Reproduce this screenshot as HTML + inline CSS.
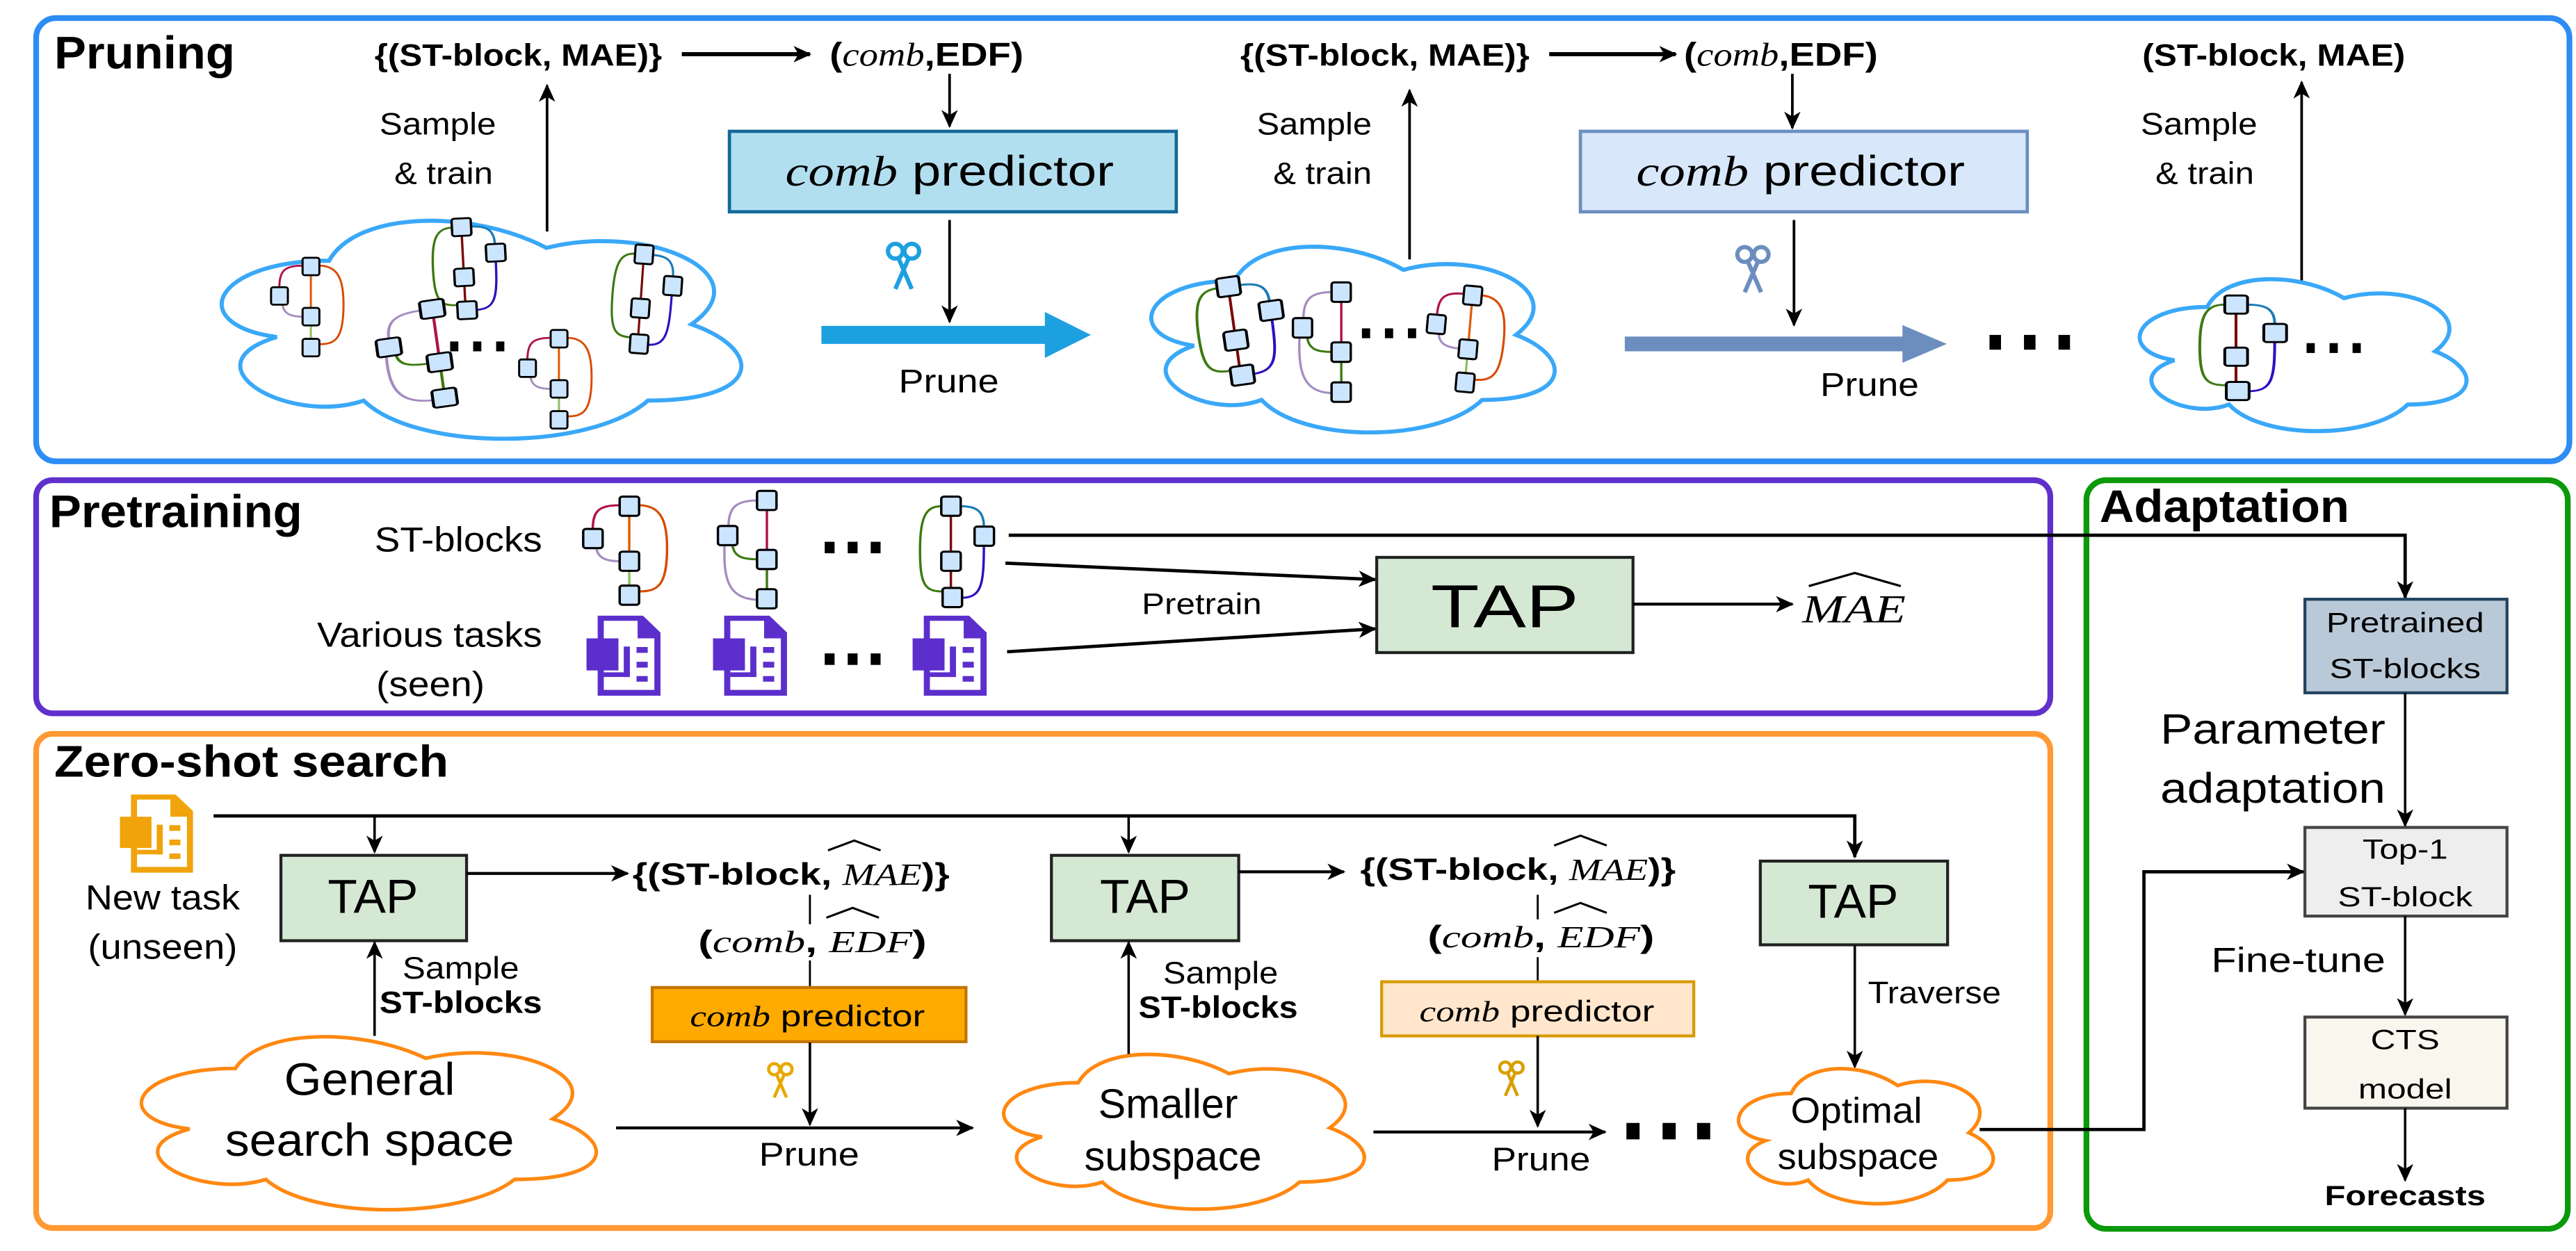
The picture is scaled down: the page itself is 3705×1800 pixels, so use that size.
<!DOCTYPE html>
<html><head><meta charset="utf-8"><style>
html,body{margin:0;padding:0;background:#fff}
svg{display:block}
text{font-family:"Liberation Sans",Arial,sans-serif;fill:#000}
.b{font-weight:bold}
.m{font-family:"Liberation Serif",serif;font-style:italic}
</style></head><body>
<svg width="3705" height="1800" viewBox="0 0 1568 762" preserveAspectRatio="none" xmlns="http://www.w3.org/2000/svg">
<defs>
<marker id="ar" markerUnits="userSpaceOnUse" markerWidth="12" markerHeight="10" refX="10" refY="5" orient="auto">
<path d="M0,0 L11,5 L0,10 L3,5 Z" fill="#000"/></marker>
<g id="sq"><rect width="73" height="82" rx="10" fill="#cce5ff" stroke="#000" stroke-width="9"/></g>
<g id="g1" fill="none" stroke-width="9">
<path d="M173,41 L173,276" stroke="#e05a00"/>
<path d="M173,276 L173,421" stroke="#8cbf60"/>
<path d="M137,37 C60,37 36,60 36,138" stroke="#b0104a"/>
<path d="M50,220 C55,270 100,276 137,276" stroke="#a58cc0"/>
<path d="M210,37 C300,37 315,120 315,220 C315,380 280,405 210,405" stroke="#d84b00"/>
<use href="#sq" x="137" y="0"/><use href="#sq" x="0" y="138"/><use href="#sq" x="137" y="235"/><use href="#sq" x="137" y="380"/>
</g>
<g id="g2" fill="none" stroke-width="9">
<path d="M184,41 L184,292" stroke="#b0104a"/>
<path d="M184,292 L184,462" stroke="#3d7a12"/>
<path d="M147,41 C70,41 40,70 40,150" stroke="#a58cc0"/>
<path d="M55,232 C60,285 100,292 147,292" stroke="#3d7a12"/>
<path d="M25,232 C20,380 40,460 147,465" stroke="#a58cc0"/>
<use href="#sq" x="147" y="0"/><use href="#sq" x="0" y="150"/><use href="#sq" x="147" y="252"/><use href="#sq" x="147" y="420"/>
</g>
<g id="g3" fill="none" stroke-width="9">
<path d="M116,41 L116,430" stroke="#7a0a0a"/>
<path d="M80,41 C20,41 0,90 0,230 C0,380 20,405 85,405" stroke="#3d7a12"/>
<path d="M153,41 C210,41 240,60 240,128" stroke="#1a7ab8"/>
<path d="M240,210 C240,380 230,430 158,432" stroke="#3010c0"/>
<use href="#sq" x="80" y="0"/><use href="#sq" x="205" y="128"/><use href="#sq" x="80" y="235"/><use href="#sq" x="85" y="390"/>
</g>
<g id="doc">
<path d="M42,0 H212 L278,72 V342 H42 Z"/>
<path d="M65,22 H192 V97 H255 V317 H65 Z" fill="#fff"/>
<rect x="0" y="97" width="120" height="137"/>
<rect x="140" y="132" width="23" height="130"/>
<rect x="65" y="242" width="98" height="20"/>
<rect x="188" y="134" width="42" height="25"/>
<rect x="188" y="197" width="42" height="25"/>
<rect x="188" y="258" width="42" height="24"/>
</g>
<g id="sc" fill="none" stroke-width="2.6">
<circle cx="-5" cy="-9" r="4.5"/><circle cx="5" cy="-9" r="4.5"/>
<path d="M-3,-4.5 L5,14 M3,-4.5 L-5,14"/>
</g>
</defs>

<!-- FRAMES -->
<rect x="22" y="11" width="1542" height="270" rx="12" fill="none" stroke="#2e8cf5" stroke-width="3.5"/>
<rect x="22" y="292.5" width="1226" height="142" rx="10" fill="none" stroke="#6030cc" stroke-width="3.5"/>
<rect x="22" y="447" width="1226" height="301" rx="10" fill="none" stroke="#ff9933" stroke-width="3.5"/>
<rect x="1270" y="292.5" width="293" height="456" rx="12" fill="none" stroke="#0a990a" stroke-width="3.5"/>

<!-- PRUNING -->
<text x="33" y="41.6" class="b" font-size="28" textLength="110" lengthAdjust="spacingAndGlyphs">Pruning</text>
<text x="228" y="40" class="b" font-size="19" textLength="175" lengthAdjust="spacingAndGlyphs">{(ST-block, MAE)}</text>
<line x1="415" y1="33" x2="493" y2="33" stroke="#000" stroke-width="2.5" marker-end="url(#ar)"/>
<text x="505" y="40" font-size="20" textLength="118" lengthAdjust="spacingAndGlyphs"><tspan font-weight="bold">(</tspan><tspan class="m">comb</tspan><tspan font-weight="bold">,EDF)</tspan></text>
<line x1="578" y1="45" x2="578" y2="77" stroke="#000" stroke-width="1.6" marker-end="url(#ar)"/>
<rect x="444" y="80" width="272" height="49" fill="#b2dff0" stroke="#136a99" stroke-width="2"/>
<text x="478" y="113" font-size="26" textLength="200" lengthAdjust="spacingAndGlyphs"><tspan class="m">comb</tspan> predictor</text>
<line x1="578" y1="134" x2="578" y2="196" stroke="#000" stroke-width="1.6" marker-end="url(#ar)"/>
<use href="#sc" x="550" y="162" stroke="#1da0e0"/>
<path d="M500,198.5 H636 V190 L664,204 L636,218 V209.5 H500 Z" fill="#1da0e0"/>
<text x="547" y="239" font-size="20" textLength="61" lengthAdjust="spacingAndGlyphs">Prune</text>
<text x="231" y="82" font-size="19" textLength="71" lengthAdjust="spacingAndGlyphs">Sample</text>
<text x="240" y="112" font-size="19" textLength="60" lengthAdjust="spacingAndGlyphs">&amp; train</text>
<line x1="333" y1="141" x2="333" y2="52" stroke="#000" stroke-width="1.6" marker-end="url(#ar)"/>
<path d="M200.3,158.8 C129.7,158.8 112,197.5 168.5,205.3 C112,222.3 175.5,259.5 221.4,244 C253.2,275 359.1,275 394.4,244 C465,244 465,213 420.9,197.5 C465,166.5 394.4,135.5 332.6,151 C288.5,127.8 217.9,127.8 200.3,158.8 Z" fill="#fff" stroke="#3aa8f8" stroke-width="2.5"/>
<use href="#g1" transform="translate(165,157) scale(0.14,0.13)"/>
<use href="#g3" transform="translate(262,134) rotate(-3) scale(0.16,0.13)"/>
<use href="#g3" transform="translate(375,148) rotate(4) scale(0.15,0.14)"/>
<use href="#g2" transform="translate(226,188) rotate(-8) scale(0.2,0.13)"/>
<use href="#g1" transform="translate(316,201) scale(0.14,0.13)"/>
<g fill="#000"><rect x="274" y="208" width="5" height="6"/><rect x="288" y="208" width="5" height="6"/><rect x="302" y="208" width="5" height="6"/></g>

<text x="755" y="40" class="b" font-size="19" textLength="176" lengthAdjust="spacingAndGlyphs">{(ST-block, MAE)}</text>
<line x1="943" y1="33" x2="1020" y2="33" stroke="#000" stroke-width="2.5" marker-end="url(#ar)"/>
<text x="1025" y="40" font-size="20" textLength="118" lengthAdjust="spacingAndGlyphs"><tspan font-weight="bold">(</tspan><tspan class="m">comb</tspan><tspan font-weight="bold">,EDF)</tspan></text>
<line x1="1091" y1="45" x2="1091" y2="78" stroke="#000" stroke-width="1.6" marker-end="url(#ar)"/>
<rect x="962" y="80" width="272" height="49" fill="#d8e8fa" stroke="#6c8ebf" stroke-width="2"/>
<text x="996" y="113" font-size="26" textLength="200" lengthAdjust="spacingAndGlyphs"><tspan class="m">comb</tspan> predictor</text>
<line x1="1092" y1="134" x2="1092" y2="198" stroke="#000" stroke-width="1.6" marker-end="url(#ar)"/>
<use href="#sc" x="1067" y="164" stroke="#6c8ebf"/>
<path d="M989,205 H1158 V198 L1185,209.5 L1158,221 V214 H989 Z" fill="#6c8ebf"/>
<text x="1108" y="241" font-size="20" textLength="60" lengthAdjust="spacingAndGlyphs">Prune</text>
<g fill="#000"><rect x="1211" y="204" width="7" height="9"/><rect x="1232" y="204" width="7" height="9"/><rect x="1253" y="204" width="7" height="9"/></g>
<text x="765" y="82" font-size="19" textLength="70" lengthAdjust="spacingAndGlyphs">Sample</text>
<text x="775" y="112" font-size="19" textLength="60" lengthAdjust="spacingAndGlyphs">&amp; train</text>
<line x1="858" y1="158" x2="858" y2="55" stroke="#000" stroke-width="1.6" marker-end="url(#ar)"/>
<path d="M751.5,171 C696.7,171 683,204 726.8,210.6 C683,225.1 732.3,256.8 767.9,243.6 C792.6,270 874.8,270 902.2,243.6 C957,243.6 957,217.2 922.8,204 C957,177.6 902.2,151.2 854.3,164.4 C820,144.6 765.2,144.6 751.5,171 Z" fill="#fff" stroke="#3aa8f8" stroke-width="2.5"/>
<use href="#g3" transform="translate(725,172) rotate(-8) scale(0.19,0.14)"/>
<use href="#g2" transform="translate(787,172) scale(0.16,0.145)"/>
<use href="#g1" transform="translate(871,172) rotate(5) scale(0.15,0.14)"/>
<g fill="#000"><rect x="829" y="200" width="5" height="6"/><rect x="843" y="200" width="5" height="6"/><rect x="857" y="200" width="5" height="6"/></g>

<text x="1304" y="40" class="b" font-size="19" textLength="160" lengthAdjust="spacingAndGlyphs">(ST-block, MAE)</text>
<text x="1303" y="82" font-size="19" textLength="71" lengthAdjust="spacingAndGlyphs">Sample</text>
<text x="1312" y="112" font-size="19" textLength="60" lengthAdjust="spacingAndGlyphs">&amp; train</text>
<line x1="1401" y1="171" x2="1401" y2="50" stroke="#000" stroke-width="1.6" marker-end="url(#ar)"/>
<path d="M1343.5,187 C1299.1,187 1288,214 1323.5,219.4 C1288,231.3 1328,257.2 1356.8,246.4 C1376.8,268 1443.4,268 1465.6,246.4 C1510,246.4 1510,224.8 1482.3,214 C1510,192.4 1465.6,170.8 1426.8,181.6 C1399,165.4 1354.6,165.4 1343.5,187 Z" fill="#fff" stroke="#3aa8f8" stroke-width="2.5"/>
<use href="#g3" transform="translate(1339,180) scale(0.19,0.135)"/>
<g fill="#000"><rect x="1404" y="209" width="5" height="6"/><rect x="1418" y="209" width="5" height="6"/><rect x="1432" y="209" width="5" height="6"/></g>

<!-- PRETRAINING -->
<text x="30" y="321" class="b" font-size="28" textLength="154" lengthAdjust="spacingAndGlyphs">Pretraining</text>
<text x="330" y="336" font-size="21" text-anchor="end" textLength="102" lengthAdjust="spacingAndGlyphs">ST-blocks</text>
<text x="330" y="394" font-size="21" text-anchor="end" textLength="137" lengthAdjust="spacingAndGlyphs">Various tasks</text>
<text x="262" y="424" font-size="21" text-anchor="middle" textLength="66" lengthAdjust="spacingAndGlyphs">(seen)</text>
<use href="#g1" transform="translate(355,302.5) scale(0.162,0.1426)"/>
<use href="#g2" transform="translate(437,299) scale(0.162,0.1426)"/>
<use href="#g3" transform="translate(560,302.5) scale(0.162,0.1426)"/>
<g fill="#000"><rect x="502" y="330" width="6" height="7"/><rect x="516" y="330" width="6" height="7"/><rect x="530" y="330" width="6" height="7"/></g>
<g fill="#5c2fcc">
<use href="#doc" transform="translate(357,375) scale(0.162,0.1426)"/>
<use href="#doc" transform="translate(434,375) scale(0.162,0.1426)"/>
<use href="#doc" transform="translate(555.5,375) scale(0.162,0.1426)"/>
</g>
<g fill="#000"><rect x="502" y="398" width="6" height="7"/><rect x="516" y="398" width="6" height="7"/><rect x="530" y="398" width="6" height="7"/></g>
<polyline points="614,326 1464,326 1464,364" fill="none" stroke="#000" stroke-width="2" marker-end="url(#ar)"/>
<line x1="612" y1="343" x2="837" y2="353" stroke="#000" stroke-width="2" marker-end="url(#ar)"/>
<line x1="613" y1="397" x2="837" y2="383" stroke="#000" stroke-width="2" marker-end="url(#ar)"/>
<text x="695" y="374" font-size="18" textLength="73" lengthAdjust="spacingAndGlyphs">Pretrain</text>
<rect x="838" y="339.5" width="156" height="58" fill="#d5e8d4" stroke="#222" stroke-width="1.8"/>
<text x="916" y="382" font-size="37" text-anchor="middle" textLength="90" lengthAdjust="spacingAndGlyphs">TAP</text>
<line x1="994" y1="368" x2="1091" y2="368" stroke="#000" stroke-width="1.8" marker-end="url(#ar)"/>
<text x="1097" y="379" class="m" font-size="24" textLength="63" lengthAdjust="spacingAndGlyphs">MAE</text>
<path d="M1101,357 L1129,349 L1157,357" fill="none" stroke="#000" stroke-width="1.4"/>

<!-- ADAPTATION -->
<text x="1278" y="318" class="b" font-size="28" textLength="152" lengthAdjust="spacingAndGlyphs">Adaptation</text>
<rect x="1403" y="365" width="123" height="57" fill="#bac9d8" stroke="#23445f" stroke-width="1.8"/>
<text x="1464" y="385" font-size="17" text-anchor="middle" textLength="96" lengthAdjust="spacingAndGlyphs">Pretrained</text>
<text x="1464" y="413" font-size="17" text-anchor="middle" textLength="92" lengthAdjust="spacingAndGlyphs">ST-blocks</text>
<line x1="1464" y1="422" x2="1464" y2="503" stroke="#000" stroke-width="1.5" marker-end="url(#ar)"/>
<text x="1452" y="453" font-size="26" text-anchor="end" textLength="137" lengthAdjust="spacingAndGlyphs">Parameter</text>
<text x="1452" y="489" font-size="26" text-anchor="end" textLength="137" lengthAdjust="spacingAndGlyphs">adaptation</text>
<rect x="1403" y="504" width="123" height="54" fill="#eeeeee" stroke="#444" stroke-width="1.8"/>
<text x="1464" y="523" font-size="17" text-anchor="middle" textLength="52" lengthAdjust="spacingAndGlyphs">Top-1</text>
<text x="1464" y="552" font-size="17" text-anchor="middle" textLength="82" lengthAdjust="spacingAndGlyphs">ST-block</text>
<line x1="1464" y1="558" x2="1464" y2="618" stroke="#000" stroke-width="1.5" marker-end="url(#ar)"/>
<text x="1452" y="592" font-size="21" text-anchor="end" textLength="106" lengthAdjust="spacingAndGlyphs">Fine-tune</text>
<rect x="1403" y="619.5" width="123" height="55.5" fill="#f9f7ed" stroke="#444" stroke-width="1.8"/>
<text x="1464" y="639" font-size="17" text-anchor="middle" textLength="42" lengthAdjust="spacingAndGlyphs">CTS</text>
<text x="1464" y="669" font-size="17" text-anchor="middle" textLength="57" lengthAdjust="spacingAndGlyphs">model</text>
<line x1="1464" y1="675" x2="1464" y2="719" stroke="#000" stroke-width="1.5" marker-end="url(#ar)"/>
<text x="1464" y="734" class="b" font-size="17" text-anchor="middle" textLength="98" lengthAdjust="spacingAndGlyphs">Forecasts</text>

<!-- ZERO-SHOT -->
<text x="33" y="473" class="b" font-size="27" textLength="240" lengthAdjust="spacingAndGlyphs">Zero-shot search</text>
<use href="#doc" transform="translate(73,484) scale(0.16,0.139)" fill="#f0a30a"/>
<text x="99" y="554" font-size="21" text-anchor="middle" textLength="94" lengthAdjust="spacingAndGlyphs">New task</text>
<text x="99" y="584" font-size="21" text-anchor="middle" textLength="91" lengthAdjust="spacingAndGlyphs">(unseen)</text>
<polyline points="130,497 1129,497 1129,522" fill="none" stroke="#000" stroke-width="2" marker-end="url(#ar)"/>
<line x1="228" y1="497" x2="228" y2="519" stroke="#000" stroke-width="1.5" marker-end="url(#ar)"/>
<line x1="687" y1="497" x2="687" y2="519" stroke="#000" stroke-width="1.5" marker-end="url(#ar)"/>

<rect x="171" y="521" width="113" height="52" fill="#d5e8d4" stroke="#222" stroke-width="1.8"/>
<text x="227" y="556" font-size="29" text-anchor="middle" textLength="55" lengthAdjust="spacingAndGlyphs">TAP</text>
<line x1="284" y1="532" x2="382" y2="532" stroke="#000" stroke-width="1.8" marker-end="url(#ar)"/>
<text x="385" y="539" font-size="19" textLength="193" lengthAdjust="spacingAndGlyphs"><tspan font-weight="bold">{(ST-block, </tspan><tspan class="m">MAE</tspan><tspan font-weight="bold">)}</tspan></text>
<path d="M504,518 L520,512 L536,518" fill="none" stroke="#000" stroke-width="1.3"/>
<line x1="493" y1="545" x2="493" y2="563" stroke="#000" stroke-width="1.2"/>
<text x="425" y="580" font-size="19" textLength="139" lengthAdjust="spacingAndGlyphs"><tspan font-weight="bold">(</tspan><tspan class="m">comb</tspan><tspan font-weight="bold">, </tspan><tspan class="m">EDF</tspan><tspan font-weight="bold">)</tspan></text>
<path d="M503,559 L519,553 L535,559" fill="none" stroke="#000" stroke-width="1.3"/>
<line x1="493" y1="585" x2="493" y2="601" stroke="#000" stroke-width="1.2"/>
<rect x="397" y="601.5" width="191" height="33" fill="#ffaa00" stroke="#c27400" stroke-width="1.8"/>
<text x="420" y="625" font-size="18" textLength="143" lengthAdjust="spacingAndGlyphs"><tspan class="m">comb</tspan> predictor</text>
<line x1="493" y1="635" x2="493" y2="685" stroke="#000" stroke-width="1.5" marker-end="url(#ar)"/>
<use href="#sc" transform="translate(475,658) scale(0.75)" stroke="#e8a800"/>
<line x1="375" y1="687" x2="592" y2="687" stroke="#000" stroke-width="1.8" marker-end="url(#ar)"/>
<text x="462" y="710" font-size="20" textLength="61" lengthAdjust="spacingAndGlyphs">Prune</text>
<path d="M143.3,650.8 C81.5,650.8 66,681.5 115.4,687.7 C66,701.2 121.6,730.7 161.8,718.4 C189.6,743 282.3,743 313.2,718.4 C375,718.4 375,693.8 336.4,681.5 C375,656.9 313.2,632.3 259.1,644.6 C220.5,626.2 158.7,626.2 143.3,650.8 Z" fill="#fff" stroke="#ff8811" stroke-width="2.2"/>
<text x="225" y="667" font-size="28" text-anchor="middle" textLength="104" lengthAdjust="spacingAndGlyphs">General</text>
<text x="225" y="704" font-size="28" text-anchor="middle" textLength="176" lengthAdjust="spacingAndGlyphs">search space</text>
<line x1="228" y1="631" x2="228" y2="574" stroke="#000" stroke-width="1.5" marker-end="url(#ar)"/>
<text x="245" y="596" font-size="19" textLength="71" lengthAdjust="spacingAndGlyphs">Sample</text>
<text x="231" y="617" class="b" font-size="19" textLength="99" lengthAdjust="spacingAndGlyphs">ST-blocks</text>

<rect x="640" y="521" width="114" height="52" fill="#d5e8d4" stroke="#222" stroke-width="1.8"/>
<text x="697" y="556" font-size="29" text-anchor="middle" textLength="55" lengthAdjust="spacingAndGlyphs">TAP</text>
<line x1="754" y1="531" x2="818" y2="531" stroke="#000" stroke-width="1.8" marker-end="url(#ar)"/>
<text x="828" y="536" font-size="19" textLength="192" lengthAdjust="spacingAndGlyphs"><tspan font-weight="bold">{(ST-block, </tspan><tspan class="m">MAE</tspan><tspan font-weight="bold">)}</tspan></text>
<path d="M946,515 L962,509 L978,515" fill="none" stroke="#000" stroke-width="1.3"/>
<line x1="936" y1="545" x2="936" y2="560" stroke="#000" stroke-width="1.2"/>
<text x="869" y="577" font-size="19" textLength="138" lengthAdjust="spacingAndGlyphs"><tspan font-weight="bold">(</tspan><tspan class="m">comb</tspan><tspan font-weight="bold">, </tspan><tspan class="m">EDF</tspan><tspan font-weight="bold">)</tspan></text>
<path d="M946,556 L962,550 L978,556" fill="none" stroke="#000" stroke-width="1.3"/>
<line x1="936" y1="583" x2="936" y2="598" stroke="#000" stroke-width="1.2"/>
<rect x="841" y="598" width="190" height="33" fill="#ffe6cc" stroke="#d79b00" stroke-width="1.8"/>
<text x="864" y="622" font-size="18" textLength="143" lengthAdjust="spacingAndGlyphs"><tspan class="m">comb</tspan> predictor</text>
<line x1="936" y1="631" x2="936" y2="686" stroke="#000" stroke-width="1.5" marker-end="url(#ar)"/>
<use href="#sc" transform="translate(920,657) scale(0.75)" stroke="#d7a000"/>
<line x1="836" y1="689.5" x2="977" y2="689.5" stroke="#000" stroke-width="1.8" marker-end="url(#ar)"/>
<text x="908" y="713" font-size="20" textLength="60" lengthAdjust="spacingAndGlyphs">Prune</text>
<g fill="#000"><rect x="990" y="684" width="8" height="10"/><rect x="1012" y="684" width="8" height="10"/><rect x="1033" y="684" width="8" height="10"/></g>
<path d="M656.3,659.5 C607.3,659.5 595,687 634.2,692.5 C595,704.6 639.1,731 671,720 C693,742 766.5,742 791,720 C840,720 840,698 809.4,687 C840,665 791,643 748.1,654 C717.5,637.5 668.5,637.5 656.3,659.5 Z" fill="#fff" stroke="#ff8811" stroke-width="2.2"/>
<text x="711" y="681" font-size="25" text-anchor="middle" textLength="85" lengthAdjust="spacingAndGlyphs">Smaller</text>
<text x="714" y="713" font-size="25" text-anchor="middle" textLength="108" lengthAdjust="spacingAndGlyphs">subspace</text>
<line x1="687" y1="642" x2="687" y2="574" stroke="#000" stroke-width="1.5" marker-end="url(#ar)"/>
<text x="708" y="599" font-size="19" textLength="70" lengthAdjust="spacingAndGlyphs">Sample</text>
<text x="693" y="620" class="b" font-size="19" textLength="97" lengthAdjust="spacingAndGlyphs">ST-blocks</text>

<rect x="1071.5" y="524.5" width="114" height="51" fill="#d5e8d4" stroke="#222" stroke-width="1.8"/>
<text x="1128" y="559" font-size="29" text-anchor="middle" textLength="55" lengthAdjust="spacingAndGlyphs">TAP</text>
<line x1="1129" y1="576" x2="1129" y2="650" stroke="#000" stroke-width="1.5" marker-end="url(#ar)"/>
<text x="1137" y="611" font-size="19" textLength="81" lengthAdjust="spacingAndGlyphs">Traverse</text>
<path d="M1090.3,666 C1055.7,666 1047,690 1074.7,694.8 C1047,705.4 1078.1,728.4 1100.6,718.8 C1116.2,738 1168.1,738 1185.4,718.8 C1220,718.8 1220,699.6 1198.4,690 C1220,670.8 1185.4,651.6 1155.1,661.2 C1133.5,646.8 1098.9,646.8 1090.3,666 Z" fill="#fff" stroke="#ff8811" stroke-width="2.2"/>
<text x="1130" y="684" font-size="22" text-anchor="middle" textLength="80" lengthAdjust="spacingAndGlyphs">Optimal</text>
<text x="1131" y="712" font-size="22" text-anchor="middle" textLength="98" lengthAdjust="spacingAndGlyphs">subspace</text>
<polyline points="1205,688 1305,688 1305,531 1402,531" fill="none" stroke="#000" stroke-width="2" marker-end="url(#ar)"/>
</svg>
</body></html>
